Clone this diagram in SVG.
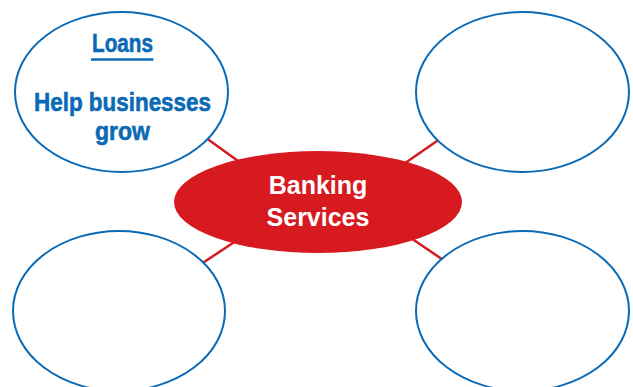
<svg xmlns="http://www.w3.org/2000/svg" width="633" height="387" viewBox="0 0 633 387">
<style>
.bubble{fill:#fff;stroke:#0a6ab6;stroke-width:2}
.link{stroke:#d71920;stroke-width:2.5;fill:none}
.center{fill:#d71920}
.ctext{font-family:"Liberation Sans",Arial,sans-serif;font-weight:bold;font-size:25px;fill:#fff;text-anchor:middle}
.btext{font-family:"Liberation Sans Narrow","Liberation Sans",Arial,sans-serif;font-weight:bold;font-size:26.5px;fill:#0a6ab6;stroke:#0a6ab6;stroke-width:0.6;text-anchor:middle}
</style>
<rect width="633" height="387" fill="#fff"/>
<g id="connectors">
<line class="link" x1="195" y1="130" x2="245" y2="166"/>
<line class="link" x1="450" y1="132" x2="398" y2="168"/>
<line class="link" x1="192" y1="270" x2="242" y2="237"/>
<line class="link" x1="455" y1="268" x2="405" y2="234"/>
</g>
<g id="node-loans">
<ellipse class="bubble" cx="121.5" cy="92" rx="106.5" ry="80"/>
<text class="btext" x="122.5" y="52" textLength="61" lengthAdjust="spacingAndGlyphs">Loans</text>
<line x1="91" y1="59.5" x2="153.5" y2="59.5" stroke="#0a6ab6" stroke-width="2.5"/>
<text class="btext" x="122.5" y="111" textLength="177" lengthAdjust="spacingAndGlyphs">Help businesses</text>
<text class="btext" x="122.5" y="140" textLength="55" lengthAdjust="spacingAndGlyphs">grow</text>
</g>
<g id="node-top-right">
<ellipse class="bubble" cx="522.5" cy="92" rx="106.5" ry="80"/>
</g>
<g id="node-bottom-left">
<ellipse class="bubble" cx="119" cy="311" rx="106" ry="80"/>
</g>
<g id="node-bottom-right">
<ellipse class="bubble" cx="522.5" cy="311" rx="106.5" ry="80"/>
</g>
<g id="node-banking">
<ellipse class="center" cx="318" cy="202" rx="144" ry="51"/>
<text class="ctext" x="318" y="194">Banking</text>
<text class="ctext" x="318" y="226">Services</text>
</g>
</svg>
